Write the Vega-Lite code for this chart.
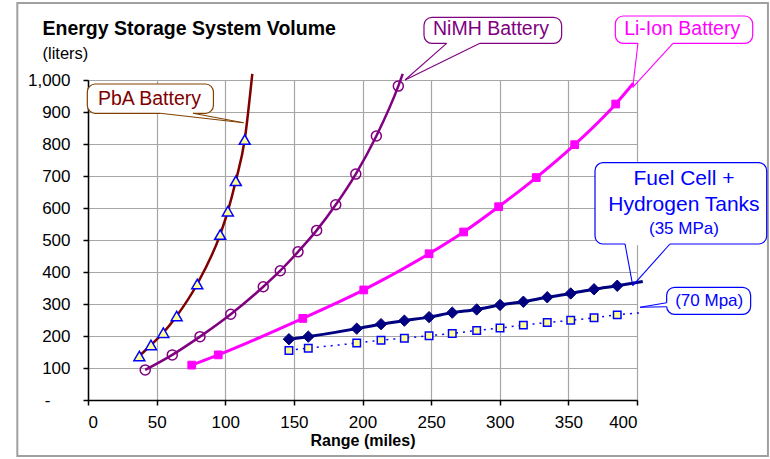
{
  "$schema": "https://vega.github.io/schema/vega-lite/v6.json",
  "width": 549,
  "height": 320,
  "autosize": {"type": "none"},
  "padding": {"left": 88, "top": 80, "right": 133, "bottom": 59},
  "background": "white",
  "title": {
    "text": "Energy Storage System Volume",
    "subtitle": "(liters)",
    "anchor": "start",
    "frame": "group",
    "dx": -45.5,
    "offset": -61,
    "font": "Liberation Sans",
    "fontSize": 19.5,
    "fontWeight": "bold",
    "color": "black",
    "subtitleFont": "Liberation Sans",
    "subtitleFontSize": 16.5,
    "subtitleFontWeight": "normal",
    "subtitleColor": "black",
    "subtitlePadding": 6
  },
  "config": {
    "view": {"stroke": null},
    "font": "Liberation Sans",
    "axis": {
      "labelFont": "Liberation Sans",
      "labelFontSize": 17,
      "labelColor": "black",
      "domainColor": "black",
      "domainWidth": 1.5,
      "tickColor": "black",
      "tickWidth": 1.5,
      "tickSize": 5,
      "gridColor": "#a6a6a6",
      "gridWidth": 1.2
    }
  },
  "datasets": {
    "series": [
      {"series": "PbA", "range": 37.4, "volume": 137.5, "measured": true},
      {"series": "PbA", "range": 45.9, "volume": 171.9, "measured": true},
      {"series": "PbA", "range": 54.9, "volume": 210.3, "measured": true},
      {"series": "PbA", "range": 64.6, "volume": 262.5, "measured": true},
      {"series": "PbA", "range": 79.6, "volume": 362.5, "measured": true},
      {"series": "PbA", "range": 96.3, "volume": 517, "measured": true},
      {"series": "PbA", "range": 101.9, "volume": 590, "measured": true},
      {"series": "PbA", "range": 107.7, "volume": 685, "measured": true},
      {"series": "PbA", "range": 114.2, "volume": 814, "measured": true},
      {"series": "PbA", "range": 119.7, "volume": 1019, "measured": false},
      {"series": "NiMH", "range": 41.7, "volume": 94, "measured": true},
      {"series": "NiMH", "range": 61.4, "volume": 141, "measured": true},
      {"series": "NiMH", "range": 81.6, "volume": 198, "measured": true},
      {"series": "NiMH", "range": 104.0, "volume": 268, "measured": true},
      {"series": "NiMH", "range": 127.7, "volume": 354, "measured": true},
      {"series": "NiMH", "range": 140.1, "volume": 404, "measured": true},
      {"series": "NiMH", "range": 153.0, "volume": 463, "measured": true},
      {"series": "NiMH", "range": 166.6, "volume": 530, "measured": true},
      {"series": "NiMH", "range": 180.5, "volume": 610, "measured": true},
      {"series": "NiMH", "range": 195.1, "volume": 706, "measured": true},
      {"series": "NiMH", "range": 210.1, "volume": 825, "measured": true},
      {"series": "NiMH", "range": 226.1, "volume": 981, "measured": true},
      {"series": "NiMH", "range": 229.3, "volume": 1019, "measured": false},
      {"series": "LiIon", "range": 75.6, "volume": 109, "measured": true},
      {"series": "LiIon", "range": 94.9, "volume": 141, "measured": true},
      {"series": "LiIon", "range": 156.5, "volume": 255, "measured": true},
      {"series": "LiIon", "range": 200.9, "volume": 344, "measured": true},
      {"series": "LiIon", "range": 248.5, "volume": 457, "measured": true},
      {"series": "LiIon", "range": 273.7, "volume": 525, "measured": true},
      {"series": "LiIon", "range": 299.2, "volume": 604, "measured": true},
      {"series": "LiIon", "range": 326.6, "volume": 695, "measured": true},
      {"series": "LiIon", "range": 354.6, "volume": 798, "measured": true},
      {"series": "LiIon", "range": 384.5, "volume": 925, "measured": true},
      {"series": "LiIon", "range": 397.3, "volume": 990, "measured": false},
      {"series": "FC35", "range": 146.4, "volume": 190, "measured": true},
      {"series": "FC35", "range": 160.5, "volume": 198, "measured": true},
      {"series": "FC35", "range": 195.8, "volume": 223, "measured": true},
      {"series": "FC35", "range": 213.5, "volume": 237, "measured": true},
      {"series": "FC35", "range": 230.5, "volume": 248, "measured": true},
      {"series": "FC35", "range": 248.5, "volume": 259, "measured": true},
      {"series": "FC35", "range": 265.4, "volume": 273, "measured": true},
      {"series": "FC35", "range": 283.2, "volume": 283, "measured": true},
      {"series": "FC35", "range": 300.2, "volume": 297, "measured": true},
      {"series": "FC35", "range": 317.2, "volume": 307, "measured": true},
      {"series": "FC35", "range": 334.6, "volume": 321, "measured": true},
      {"series": "FC35", "range": 351.7, "volume": 333, "measured": true},
      {"series": "FC35", "range": 368.7, "volume": 346, "measured": true},
      {"series": "FC35", "range": 385.6, "volume": 357, "measured": true},
      {"series": "FC35", "range": 404.2, "volume": 370, "measured": false},
      {"series": "FC70", "range": 146.4, "volume": 155, "measured": true},
      {"series": "FC70", "range": 160.5, "volume": 162, "measured": true},
      {"series": "FC70", "range": 195.8, "volume": 178, "measured": true},
      {"series": "FC70", "range": 213.5, "volume": 187, "measured": true},
      {"series": "FC70", "range": 230.5, "volume": 193, "measured": true},
      {"series": "FC70", "range": 248.5, "volume": 201, "measured": true},
      {"series": "FC70", "range": 265.4, "volume": 208, "measured": true},
      {"series": "FC70", "range": 283.2, "volume": 217, "measured": true},
      {"series": "FC70", "range": 300.2, "volume": 225, "measured": true},
      {"series": "FC70", "range": 317.2, "volume": 234, "measured": true},
      {"series": "FC70", "range": 334.6, "volume": 242, "measured": true},
      {"series": "FC70", "range": 351.7, "volume": 249, "measured": true},
      {"series": "FC70", "range": 368.7, "volume": 257, "measured": true},
      {"series": "FC70", "range": 385.6, "volume": 266, "measured": true},
      {"series": "FC70", "range": 404.2, "volume": 273, "measured": false}
    ],
    "frame": [
      {"range": -51.5, "volume": 1240.6, "range2": 495.4, "volume2": -175}
    ],
    "boxes": [
      {"series": "PbA", "range": -0.5, "range2": 91.4, "volume": 896, "volume2": 987.5},
      {"series": "NiMH", "range": 244.8, "range2": 345.1, "volume": 1114.7, "volume2": 1196},
      {"series": "LiIon", "range": 384.2, "range2": 484.3, "volume": 1114.7, "volume2": 1200},
      {"series": "FC35", "range": 369.4, "range2": 494.5, "volume": 487.5, "volume2": 741.6},
      {"series": "FC70", "range": 421.6, "range2": 482.8, "volume": 267.8, "volume2": 352.2}
    ],
    "tails": [
      {"series": "PbA", "part": "gap", "range": 52.5, "volume": 896, "range2": 76.5, "volume2": 896},
      {"series": "PbA", "part": "edge", "range": 52.5, "volume": 896, "range2": 113.3, "volume2": 866.6},
      {"series": "PbA", "part": "edge", "range": 76.5, "volume": 896, "range2": 113.3, "volume2": 866.6},
      {"series": "NiMH", "part": "gap", "range": 261.3, "volume": 1114.7, "range2": 285.6, "volume2": 1114.7},
      {"series": "NiMH", "part": "edge", "range": 261.3, "volume": 1114.7, "range2": 231.0, "volume2": 1000},
      {"series": "NiMH", "part": "edge", "range": 285.6, "volume": 1114.7, "range2": 231.0, "volume2": 1000},
      {"series": "LiIon", "part": "gap", "range": 400.7, "volume": 1114.7, "range2": 426.2, "volume2": 1114.7},
      {"series": "LiIon", "part": "edge", "range": 400.7, "volume": 1114.7, "range2": 396.9, "volume2": 977},
      {"series": "LiIon", "part": "edge", "range": 426.2, "volume": 1114.7, "range2": 396.9, "volume2": 977},
      {"series": "FC35", "part": "gap", "range": 391.3, "volume": 487.5, "range2": 424.0, "volume2": 487.5},
      {"series": "FC35", "part": "edge", "range": 391.3, "volume": 487.5, "range2": 396.9, "volume2": 357.2},
      {"series": "FC35", "part": "edge", "range": 424.0, "volume": 487.5, "range2": 396.9, "volume2": 357.2},
      {"series": "FC70", "part": "gap", "range": 421.6, "volume": 304, "range2": 421.6, "volume2": 291.6},
      {"series": "FC70", "part": "edge", "range": 421.6, "volume": 304, "range2": 402.2, "volume2": 289.7},
      {"series": "FC70", "part": "edge", "range": 421.6, "volume": 291.6, "range2": 402.2, "volume2": 289.7}
    ],
    "labels": [
      {"series": "PbA", "label": "PbA Battery", "role": "label", "range": 44.8, "volume": 941},
      {"series": "NiMH", "label": "NiMH Battery", "role": "label", "range": 293.6, "volume": 1158.4},
      {"series": "LiIon", "label": "Li-Ion Battery", "role": "label", "range": 432.9, "volume": 1158.4},
      {"series": "FC35", "label": "Fuel Cell +", "role": "big", "range": 434.2, "volume": 690.6},
      {"series": "FC35", "label": "Hydrogen Tanks", "role": "big", "range": 434.2, "volume": 608.4},
      {"series": "FC35", "label": "(35 MPa)", "role": "small", "range": 434.2, "volume": 533.4},
      {"series": "FC70", "label": "(70 Mpa)", "role": "small", "range": 452.6, "volume": 310}
    ]
  },
  "data": {"name": "series"},
  "encoding": {
    "x": {
      "field": "range",
      "type": "quantitative",
      "scale": {"domain": [0, 400], "nice": false, "zero": false},
      "axis": {
        "values": [0, 50, 100, 150, 200, 250, 300, 350, 400],
        "labelPadding": 9,
        "title": "Range (miles)",
        "titleFont": "Liberation Sans",
        "titleFontSize": 16,
        "titleFontWeight": "bold",
        "titleColor": "black",
        "titlePadding": 2
      }
    },
    "y": {
      "field": "volume",
      "type": "quantitative",
      "scale": {"domain": [0, 1000], "nice": false, "zero": false},
      "axis": {
        "values": [0, 100, 200, 300, 400, 500, 600, 700, 800, 900, 1000],
        "labelPadding": {"condition": {"test": "datum.value === 0", "value": 33}, "value": 13},
        "labelExpr": "datum.value === 0 ? '-' : format(datum.value, ',')",
        "title": null
      }
    }
  },
  "layer": [
    {
      "data": {"name": "frame"},
      "mark": {"type": "rect", "fill": "white", "fillOpacity": 0, "stroke": "#a0a0a0", "strokeWidth": 2, "clip": false},
      "encoding": {"x2": {"field": "range2"}, "y2": {"field": "volume2"}}
    },
    {
      "transform": [{"filter": "datum.series === 'PbA'"}],
      "mark": {"type": "line", "color": "#800000", "strokeWidth": 2.5, "interpolate": "monotone", "clip": false}
    },
    {
      "transform": [{"filter": "datum.series === 'NiMH'"}],
      "mark": {"type": "line", "color": "#800080", "strokeWidth": 2.5, "interpolate": "monotone", "clip": false}
    },
    {
      "transform": [{"filter": "datum.series === 'LiIon'"}],
      "mark": {"type": "line", "color": "#FF00FF", "strokeWidth": 3, "interpolate": "monotone", "clip": false}
    },
    {
      "transform": [{"filter": "datum.series === 'FC35'"}],
      "mark": {"type": "line", "color": "#000080", "strokeWidth": 3, "interpolate": "monotone", "clip": false}
    },
    {
      "transform": [{"filter": "datum.series === 'FC70'"}],
      "mark": {"type": "line", "color": "#0000FF", "strokeWidth": 1.5, "strokeDash": [2, 5], "interpolate": "monotone", "clip": false}
    },
    {
      "transform": [{"filter": "datum.series === 'PbA' && datum.measured"}],
      "mark": {"type": "point", "shape": "triangle-up", "filled": true, "fill": "#FFFF99", "stroke": "#0000FF", "strokeWidth": 1.5, "size": 120, "opacity": 1}
    },
    {
      "transform": [{"filter": "datum.series === 'NiMH' && datum.measured"}],
      "mark": {"type": "point", "shape": "circle", "filled": false, "stroke": "#800080", "strokeWidth": 1.5, "size": 100, "opacity": 1}
    },
    {
      "transform": [{"filter": "datum.series === 'LiIon' && datum.measured"}],
      "mark": {"type": "point", "shape": "square", "filled": true, "fill": "#FF00FF", "stroke": "#FF00FF", "strokeWidth": 1, "size": 60, "opacity": 1}
    },
    {
      "transform": [{"filter": "datum.series === 'FC35' && datum.measured"}],
      "mark": {"type": "point", "shape": "diamond", "filled": true, "fill": "#000080", "stroke": "#000080", "strokeWidth": 1, "size": 130, "opacity": 1}
    },
    {
      "transform": [{"filter": "datum.series === 'FC70' && datum.measured"}],
      "mark": {"type": "point", "shape": "square", "filled": true, "fill": "#FFFF99", "stroke": "#0000FF", "strokeWidth": 1.5, "size": 56, "opacity": 1}
    },
    {
      "data": {"name": "boxes"},
      "mark": {"type": "rect", "fill": "white", "strokeWidth": 1.2, "cornerRadius": 8, "clip": false},
      "encoding": {
        "x2": {"field": "range2"},
        "y2": {"field": "volume2"},
        "stroke": {
          "field": "series", "type": "nominal", "legend": null,
          "scale": {"domain": ["PbA", "NiMH", "LiIon", "FC35", "FC70"], "range": ["#804000", "#800080", "#FF00FF", "#0000FF", "#0000FF"]}
        }
      }
    },
    {
      "data": {"name": "tails"},
      "transform": [{"filter": "datum.part === 'gap'"}],
      "mark": {"type": "rule", "color": "white", "strokeWidth": 2.5, "clip": false},
      "encoding": {"x2": {"field": "range2"}, "y2": {"field": "volume2"}}
    },
    {
      "data": {"name": "tails"},
      "transform": [{"filter": "datum.part === 'edge'"}],
      "mark": {"type": "rule", "strokeWidth": 1.1, "clip": false},
      "encoding": {
        "x2": {"field": "range2"},
        "y2": {"field": "volume2"},
        "stroke": {
          "field": "series", "type": "nominal", "legend": null,
          "scale": {"domain": ["PbA", "NiMH", "LiIon", "FC35", "FC70"], "range": ["#804000", "#800080", "#FF00FF", "#0000FF", "#0000FF"]}
        }
      }
    },
    {
      "data": {"name": "labels"},
      "transform": [{"filter": "datum.role === 'label'"}],
      "mark": {"type": "text", "align": "center", "baseline": "middle", "font": "Liberation Sans", "fontSize": 19.5, "clip": false},
      "encoding": {
        "text": {"field": "label"},
        "color": {
          "field": "series", "type": "nominal", "legend": null,
          "scale": {"domain": ["PbA", "NiMH", "LiIon", "FC35", "FC70"], "range": ["#800000", "#800080", "#FF00FF", "#0000FF", "#0000FF"]}
        }
      }
    },
    {
      "data": {"name": "labels"},
      "transform": [{"filter": "datum.role === 'big'"}],
      "mark": {"type": "text", "align": "center", "baseline": "middle", "font": "Liberation Sans", "fontSize": 21, "clip": false},
      "encoding": {
        "text": {"field": "label"},
        "color": {
          "field": "series", "type": "nominal", "legend": null,
          "scale": {"domain": ["PbA", "NiMH", "LiIon", "FC35", "FC70"], "range": ["#800000", "#800080", "#FF00FF", "#0000FF", "#0000FF"]}
        }
      }
    },
    {
      "data": {"name": "labels"},
      "transform": [{"filter": "datum.role === 'small'"}],
      "mark": {"type": "text", "align": "center", "baseline": "middle", "font": "Liberation Sans", "fontSize": 17, "clip": false},
      "encoding": {
        "text": {"field": "label"},
        "color": {
          "field": "series", "type": "nominal", "legend": null,
          "scale": {"domain": ["PbA", "NiMH", "LiIon", "FC35", "FC70"], "range": ["#800000", "#800080", "#FF00FF", "#0000FF", "#0000FF"]}
        }
      }
    }
  ]
}
